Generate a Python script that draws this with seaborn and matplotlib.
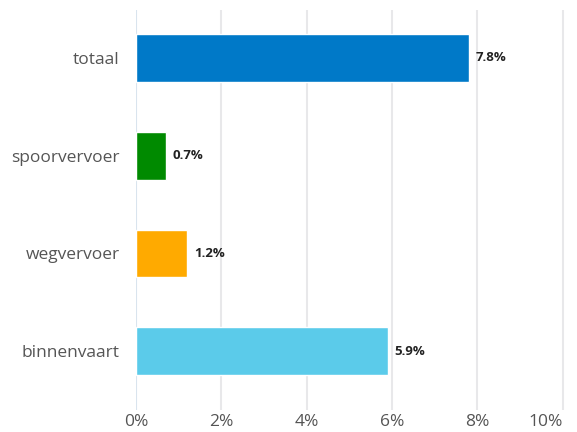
import matplotlib
matplotlib.use("Agg")
import pandas as pd
import seaborn as sns
import matplotlib.pyplot as plt
from matplotlib.ticker import FuncFormatter

# Data
categories = ["totaal", "spoorvervoer", "wegvervoer", "binnenvaart"]
values = [7.8, 0.7, 1.2, 5.9]
bar_colors = ["#0079C8", "#008A00", "#FFAA00", "#5BCBEA"]
x_ticks = [0, 2, 4, 6, 8, 10]

df = pd.DataFrame({"categorie": categories, "waarde": values})

sns.set_theme(style="white")
plt.rcParams["font.family"] = ["Open Sans", "DejaVu Sans"]

fig = plt.figure(figsize=(5.77, 4.32), dpi=100)
ax = fig.add_axes([0.236, 0.051, 0.743, 0.926])

sns.barplot(data=df, x="waarde", y="categorie", hue="categorie", palette=bar_colors,
            legend=False, width=0.49, saturation=1, ax=ax, zorder=3)

# Grid lines
for t in x_ticks:
    ax.axvline(t, color="#D9E4EE" if t == 0 else "#E8E8EA", lw=1.5, zorder=1)

ax.set_xlim(0, 10.05)
ax.set_ylim(3.6, -0.49)
ax.set_xticks(x_ticks)
ax.xaxis.set_major_formatter(FuncFormatter(lambda v, p: f"{v:.0f}%"))
ax.set_xlabel("")
ax.set_ylabel("")
ax.tick_params(axis="both", length=0, labelsize=12.5, labelcolor="#555555")
ax.tick_params(axis="y", pad=12)
ax.tick_params(axis="x", pad=3)
for s in ax.spines.values():
    s.set_visible(False)

# last tick label sits inside the figure edge
last = ax.get_xticklabels()[-1]
last.set_horizontalalignment("right")
last.set_x(10)

# Value labels
for i, v in enumerate(values):
    ax.text(v + 0.15, i, f"{v:.1f}%", va="center", ha="left",
            fontsize=9.5, fontweight="bold", color="#222222")

fig.savefig("out.png", dpi=100)
